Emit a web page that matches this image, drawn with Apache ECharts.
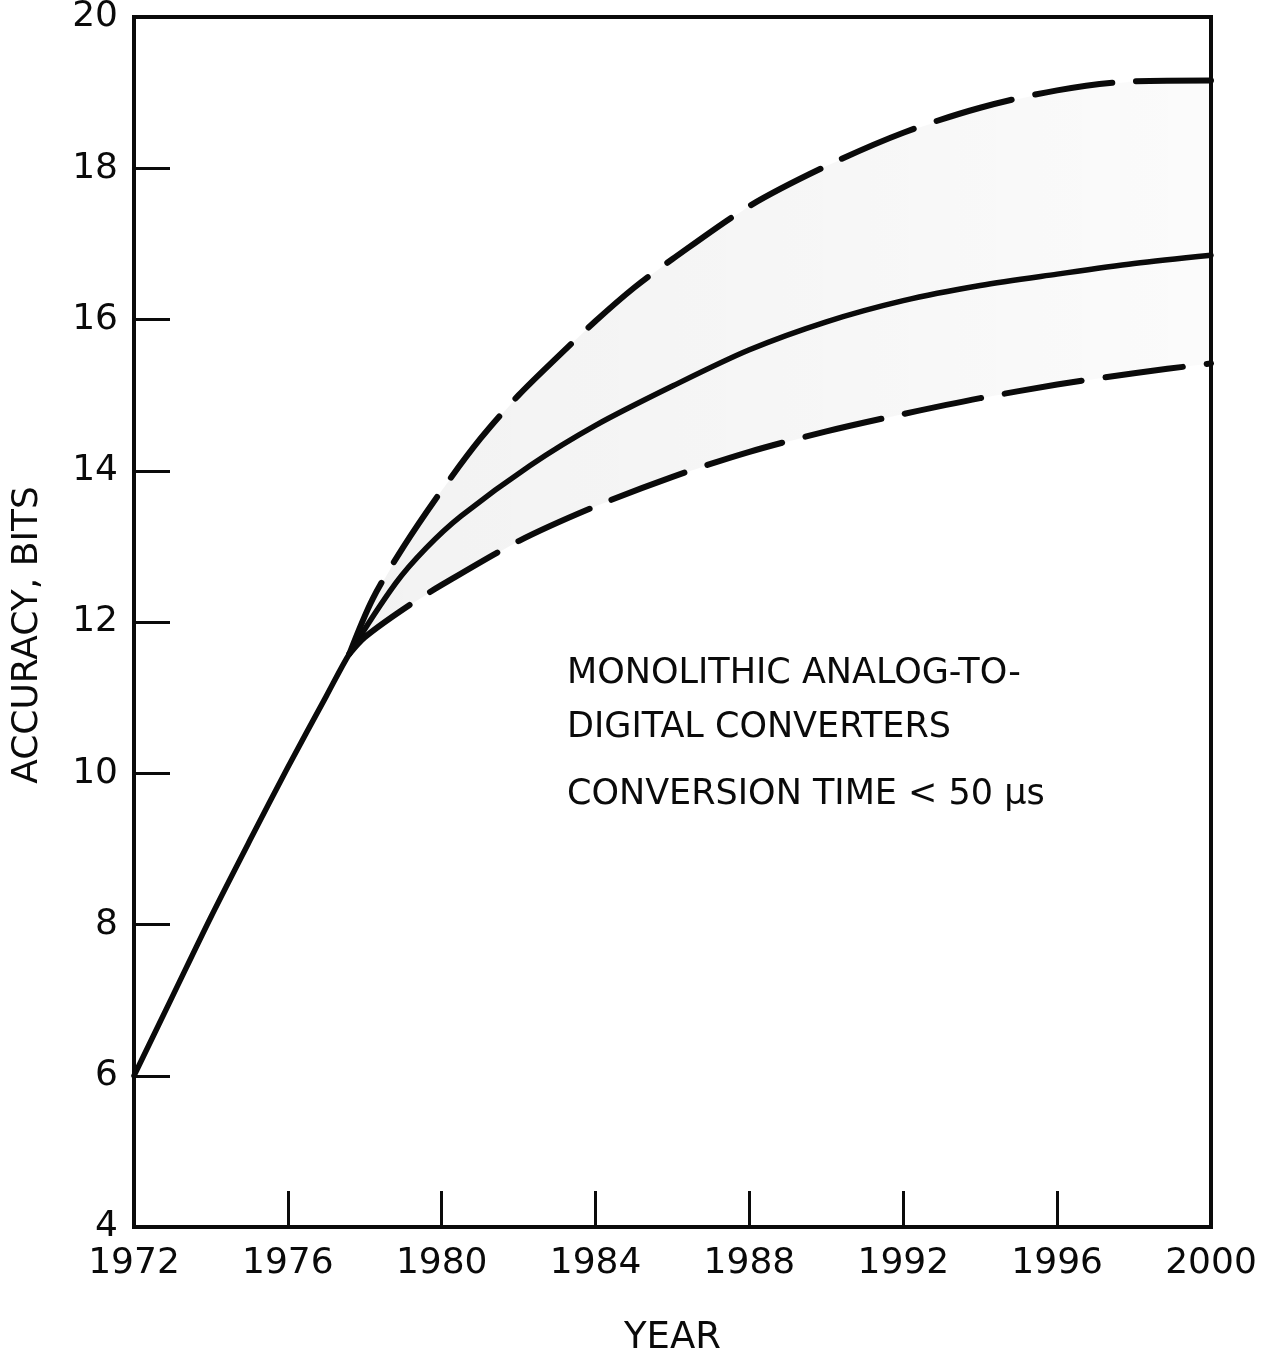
<!DOCTYPE html>
<html>
<head>
<meta charset="utf-8">
<title>Monolithic A/D converter accuracy trend</title>
<script src="https://cdn.jsdelivr.net/npm/echarts@6/dist/echarts.min.js"></script>
<style>
  html, body { margin: 0; padding: 0; background: #ffffff; }
  #chart { width: 1261px; height: 1354px; }
</style>
</head>
<body>
<div id="chart"></div>
<script>
// Axis tick values
const xTicks = [1972, 1976, 1980, 1984, 1988, 1992, 1996, 2000];
const yTicks = [4, 6, 8, 10, 12, 14, 16, 18, 20];

// Common trend up to the branch point (solid)
const stemYears = [1972, 1973, 1974, 1975, 1976, 1977, 1977.6];
const stemBits  = [6.0, 7.05, 8.1, 9.1, 10.08, 11.02, 11.58];

// Most likely projection (solid)
const midYears = [1978.8, 1979.6, 1980.5, 1982.3, 1984, 1986, 1988, 1990, 1992, 1994, 1996, 1998, 2000];
const midBits  = [12.51, 12.98, 13.4, 14.07, 14.6, 15.12, 15.6, 15.97, 16.25, 16.45, 16.6, 16.74, 16.85];

// Optimistic projection (upper dashed)
const upperYears = [1977.6, 1978.2, 1979, 1980, 1981, 1982, 1983, 1984, 1985, 1986, 1988, 1990, 1992, 1994, 1996, 1998, 2000];
const upperBits  = [11.58, 12.3, 12.99, 13.74, 14.42, 15.0, 15.5, 15.98, 16.42, 16.8, 17.5, 18.03, 18.47, 18.8, 19.03, 19.15, 19.16];

// Conservative projection (lower dashed)
const lowerYears = [1977.6, 1978, 1979, 1980, 1982, 1984, 1986, 1988, 1990, 1992, 1994, 1996, 1998, 2000];
const lowerBits  = [11.58, 11.8, 12.17, 12.49, 13.07, 13.53, 13.92, 14.25, 14.52, 14.75, 14.96, 15.14, 15.29, 15.42];

const annotationLines = [
  'MONOLITHIC ANALOG-TO-',
  'DIGITAL CONVERTERS',
  'CONVERSION TIME < 50 \u03BCs'
];

const pairs = (xs, ys) => xs.map((x, i) => [x, ys[i]]);

const solidData = pairs(stemYears, stemBits).concat(pairs(midYears, midBits));
const upperData = pairs(upperYears, upperBits);
const lowerData = pairs(lowerYears, lowerBits);

const FONT = 'DejaVu Sans';
const INK = '#0a0a0a';

const chart = echarts.init(document.getElementById('chart'), null, { renderer: 'canvas' });

chart.setOption({
  backgroundColor: '#ffffff',
  animation: false,
  grid: {
    left: 134, right: 50, top: 17, bottom: 127,
    containLabel: false,
    outerBoundsMode: 'none',
    show: true,
    borderColor: INK,
    borderWidth: 4,
    backgroundColor: 'transparent'
  },
  xAxis: {
    type: 'value',
    min: xTicks[0],
    max: xTicks[xTicks.length - 1],
    interval: xTicks[1] - xTicks[0],
    name: 'YEAR',
    nameLocation: 'middle',
    nameGap: 93,
    nameTextStyle: { fontFamily: FONT, fontSize: 37, color: INK },
    axisLine: { show: false },
    axisTick: { show: true, inside: true, length: 36, lineStyle: { color: INK, width: 3 } },
    axisLabel: {
      fontFamily: FONT, fontSize: 36, color: INK, margin: 19,
      formatter: v => String(v)
    },
    splitLine: { show: false }
  },
  yAxis: {
    type: 'value',
    min: yTicks[0],
    max: yTicks[yTicks.length - 1],
    interval: yTicks[1] - yTicks[0],
    name: 'ACCURACY, BITS',
    nameLocation: 'middle',
    nameGap: 88,
    nameRotate: 90,
    nameTextStyle: { fontFamily: FONT, fontSize: 36, color: INK, padding: [0, 26, 0, 0] },
    axisLine: { show: false },
    axisTick: { show: true, inside: true, length: 36, lineStyle: { color: INK, width: 3 } },
    axisLabel: {
      fontFamily: FONT, fontSize: 36, color: INK, margin: 16,
      formatter: v => String(v)
    },
    splitLine: { show: false }
  },
  graphic: annotationLines.map((t, i) => ({
    type: 'text',
    left: 567,
    top: [656, 710, 777][i],
    style: { text: t, font: '35px "DejaVu Sans"', fill: INK }
  })),
  series: [
    {
      // light stippled band between the optimistic and conservative curves
      type: 'custom',
      z: 1,
      silent: true,
      data: [0],
      renderItem: (params, api) => {
        const top = upperData.map(p => api.coord(p));
        const bottom = lowerData.slice().reverse().map(p => api.coord(p));
        return {
          type: 'polygon',
          shape: { points: top.concat(bottom) },
          style: {
            fill: new echarts.graphic.LinearGradient(0, 0, 1, 0, [
              { offset: 0, color: 'rgba(0,0,0,0.05)' },
              { offset: 0.5, color: 'rgba(0,0,0,0.035)' },
              { offset: 1, color: 'rgba(0,0,0,0.015)' }
            ])
          }
        };
      }
    },
    {
      name: 'Most likely',
      type: 'line',
      z: 3,
      data: solidData,
      smooth: 0.3,
      symbol: 'none',
      lineStyle: { color: INK, width: 5.5, cap: 'round', join: 'round' }
    },
    {
      name: 'Optimistic',
      type: 'line',
      z: 3,
      data: upperData,
      smooth: 0.3,
      symbol: 'none',
      lineStyle: { color: INK, width: 6, type: [78, 24], cap: 'round' }
    },
    {
      name: 'Conservative',
      type: 'line',
      z: 3,
      data: lowerData,
      smooth: 0.3,
      symbol: 'none',
      lineStyle: { color: INK, width: 6, type: [78, 24], cap: 'round' }
    }
  ]
});
</script>
</body>
</html>
